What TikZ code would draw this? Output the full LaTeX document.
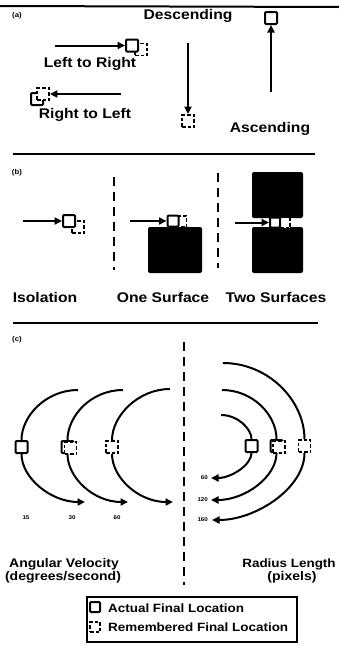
\documentclass[tikz,border=0pt]{standalone}
\usepackage{fontspec}
\setmainfont[FakeStretch=1.12]{Liberation Sans}
\usetikzlibrary{arrows.meta}
\begin{document}
\begin{tikzpicture}[x=1pt,y=-1pt,
  rule/.style={line width=2pt},
  vdash/.style={line width=2.2pt,dash pattern=on 9pt off 6pt},
  arr/.style={line width=2pt,-{Triangle[length=7.5pt,width=7pt]}},
  arc/.style={line width=2pt},
  arcarr/.style={line width=2pt,-{Triangle[length=7.5pt,width=7pt]}},
  actual/.style={draw,line width=2pt,fill=white,minimum size=12pt,inner sep=0pt,rounded corners=1pt},
  remem/.style={draw,line width=1.8pt,dash pattern=on 3.5pt off 2pt,fill=white,minimum size=12pt,inner sep=0pt},
  surf/.style={fill=black,rounded corners=2pt,inner sep=0pt},
  lab/.style={font=\fontsize{14}{16}\selectfont\bfseries,anchor=base,inner sep=0pt},
  clab/.style={font=\fontsize{12.5}{14}\selectfont\bfseries,anchor=base,inner sep=0pt},
  leg/.style={font=\fontsize{12}{14}\selectfont\bfseries,anchor=base west,inner sep=0pt},
  tag/.style={font=\fontsize{7}{8}\selectfont\bfseries,inner sep=0pt},
  num/.style={font=\fontsize{5.5}{6}\selectfont\bfseries,inner sep=0pt}
]
\useasboundingbox (0,0) rectangle (339,645);

% ---------------- (a) ----------------
\draw[rule] (0,6) -- (339,7);
\node[tag] (ta) at (17,16) {(a)};
\node[lab] (desc) at (188,19.5) {Descending};

\node[actual] (ascSq) at (271,18) {};
\coordinate (ascStart) at (271,92);
\draw[arr] (ascStart) -- (ascSq);
\node[lab] (asc) at (270,132.5) {Ascending};

\coordinate (descStart) at (188,43);
\node[remem] (descSq) at (188,121) {};
\draw[arr] (descStart) -- (descSq);

\coordinate (lrStart) at (55,45.5);
\node[remem] (lrR) at (141,49.5) {};
\node[actual] (lrA) at (132,45.5) {};
\draw[arr] (lrStart) -- (lrA);
\node[lab] (lrT) at (90,67) {Left to Right};

\coordinate (rlStart) at (121,94);
\node[actual] (rlA) at (37,99) {};
\node[remem] (rlR) at (43,94) {};
\draw[arr] (rlStart) -- (rlR);
\node[lab] (rlT) at (85,118) {Right to Left};

% ---------------- (b) ----------------
\draw[rule] (13,154) -- (315,154);
\node[tag] (tb) at (17,173) {(b)};
\draw[vdash] (114,177) -- (114,270);
\draw[vdash] (218,173) -- (218,268);

\coordinate (isoStart) at (23,221);
\node[remem] (isoR) at (78,227) {};
\node[actual] (isoA) at (69,221) {};
\draw[arr] (isoStart) -- (isoA);
\node[lab] (isoT) at (45,302) {Isolation};

\node[surf,minimum width=54pt,minimum height=46pt] (osB) at (175,250) {};
\coordinate (osStart) at (130,221);
\node[remem,minimum size=11pt] (osR) at (181,221.5) {};
\node[actual,minimum size=11pt] (osA) at (173,221) {};
\draw[arr] (osStart) -- (osA);
\node[lab] (osT) at (163,302) {One Surface};

\node[surf,minimum width=51pt,minimum height=46pt] (tsTop) at (277.5,195) {};
\node[surf,minimum width=51pt,minimum height=46pt] (tsBot) at (277.5,250) {};
\node[remem,minimum size=10pt] (tsR) at (285,222.5) {};
\node[actual,minimum size=10pt] (tsA) at (275,222.5) {};
\coordinate (tsStart) at (235,222.5);
\draw[arr] (tsStart) -- (tsA);
\node[lab] (tsT) at (276,302) {Two Surfaces};

% ---------------- (c) ----------------
\draw[rule] (13,323) -- (318,323);
\node[tag] (tc) at (17,340) {(c)};
\draw[vdash] (184,342) -- (184,585);

% left: angular velocity
\coordinate (l1t) at (78,390);
\coordinate (l1e) at (85,502);
\node[actual] (l1s) at (21.5,447) {};
\draw[arc] (l1t) .. controls +(-32,0) and +(0,-31) .. (l1s);
\draw[arcarr] (l1s) .. controls +(0,31) and +(-34,0) .. (l1e);

\coordinate (l2t) at (123,390);
\coordinate (l2e) at (128,502);
\node[actual] (l2s) at (67.5,447) {};
\node[remem] (l2r) at (70.5,448) {};
\draw[arc] (l2t) .. controls +(-32,0) and +(0,-31) .. (l2s);
\draw[arcarr] (l2s) .. controls +(0,31) and +(-34,0) .. (l2e);

\coordinate (l3t) at (170,389);
\coordinate (l3e) at (173,502);
\node[remem] (l3s) at (112,447) {};
\draw[arc] (l3t) .. controls +(-32,0) and +(0,-31) .. (l3s);
\draw[arcarr] (l3s) .. controls +(0,31) and +(-34,0) .. (l3e);

\node[num] (n15) at (26,517.5) {15};
\node[num] (n30) at (72,517.5) {30};
\node[num] (n60) at (117,517.5) {60};

\node[clab] (avT) at (64,567) {Angular Velocity};
\node[clab] (avU) at (63,580) {(degrees/second)};

% right: radius length
\coordinate (r1t) at (221,415);
\coordinate (r1e) at (211,478);
\node[actual] (r1s) at (251.5,446) {};
\draw[arc] (r1t) .. controls +(17,0) and +(0,-17) .. (r1s);
\draw[arcarr] (r1s) .. controls +(0,19) and +(20,0) .. (r1e);

\coordinate (r2t) at (222,390);
\coordinate (r2e) at (211,500);
\node[actual] (r2s) at (276.5,446) {};
\node[remem] (r2r) at (279,447) {};
\draw[arc] (r2t) .. controls +(31,0) and +(0,-31) .. (r2s);
\draw[arcarr] (r2s) .. controls +(0,31) and +(34,0) .. (r2e);

\coordinate (r3t) at (223,363);
\coordinate (r3e) at (212,520);
\node[remem] (r3s) at (304.5,446) {};
\draw[arc] (r3t) .. controls +(46,0) and +(0,-45) .. (r3s);
\draw[arcarr] (r3s) .. controls +(0,42) and +(44,0) .. (r3e);

\node[num,anchor=east] (m60) at (208,478) {60};
\node[num,anchor=east] (m120) at (208,500) {120};
\node[num,anchor=east] (m160) at (208,520) {160};

\node[clab,font=\fontsize{12}{14}\selectfont\bfseries] (rlT2) at (289,567) {Radius Length};
\node[clab] (rlU) at (292,580) {(pixels)};

% legend
\node[draw,line width=1.2pt,minimum width=210pt,minimum height=45pt,inner sep=0pt] (legend) at (192,619.5) {};
\node[actual,minimum size=10pt] (legA) at (95,607) {};
\node[remem,minimum size=10pt] (legR) at (95,627) {};
\node[leg] (legAT) at (108,612) {Actual Final Location};
\node[leg] (legRT) at (108,631) {Remembered Final Location};
\end{tikzpicture}
\end{document}
